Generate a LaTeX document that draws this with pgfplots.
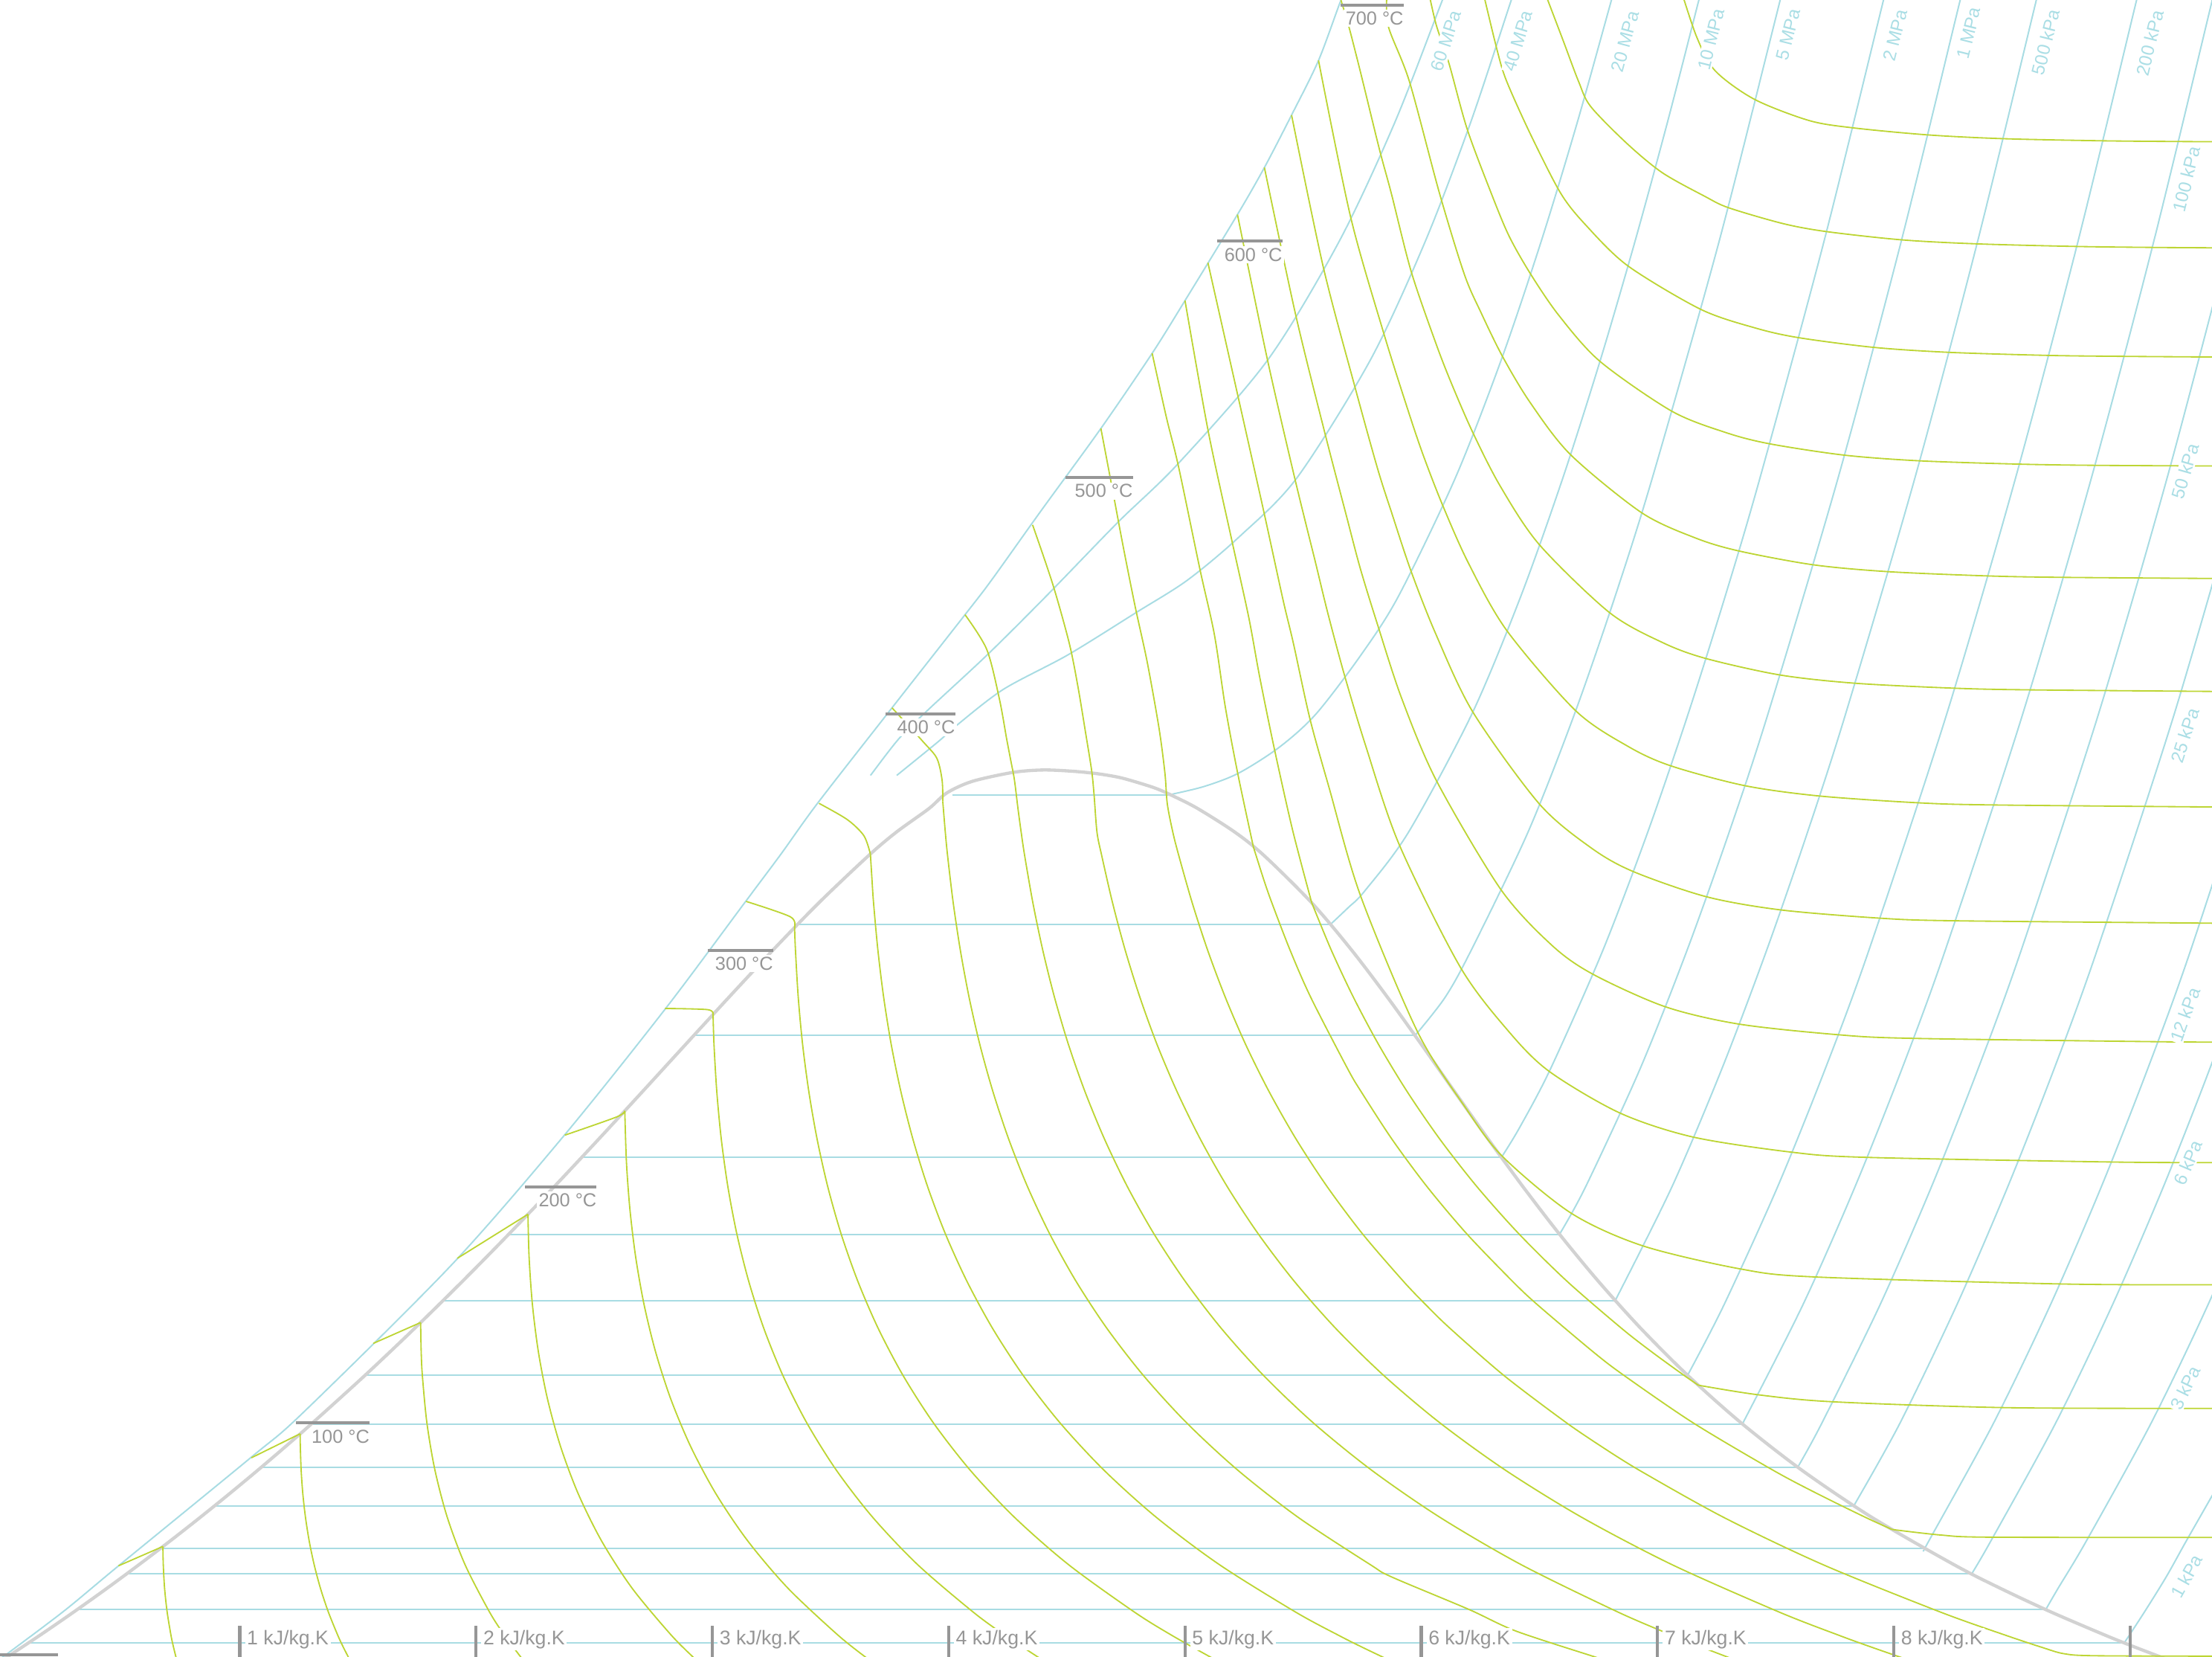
\documentclass[border=0pt]{standalone}
\usepackage{fontspec}
\setmainfont{Liberation Sans}
\usepackage{pgfplots}
\pgfplotsset{compat=1.18}

\definecolor{isobar}{RGB}{168,220,227}
\definecolor{isenth}{RGB}{189,213,52}
\definecolor{dome}{RGB}{210,210,210}
\definecolor{markc}{RGB}{150,150,150}
\definecolor{plabc}{RGB}{170,222,229}

\tikzset{
  pb/.style={draw=isobar, line width=0.6pt},
  hb/.style={draw=isenth, line width=0.55pt},
  plab/.style={text=plabc, fill=white, inner sep=0.5pt, font=\fontsize{7.3}{8}\selectfont},
  tlab/.style={text=markc, fill=white, inner sep=0.8pt, font=\fontsize{7.6}{9}\selectfont},
  slab/.style={text=markc, fill=white, inner sep=0.8pt, font=\fontsize{8}{9}\selectfont},
  tbar/.style={draw=markc, line width=1.25pt},
}

\begin{document}
\begin{tikzpicture}
\begin{axis}[
  width=31.36cm, height=23.48cm, scale only axis,
  xmin=-0.0149, xmax=9.3463, ymin=1.19, ymax=702.09,
  hide axis, clip=true,
]
% ---------------- isobars (s in kJ/kg.K, T in degC)
% boundary isobar (highest pressure)
\addplot[pb, smooth] coordinates {(-0.03,-1) (0.25,20) (0.487,39.6) (1.048,85.5) (1.269,104.5) (1.897,167) (2.372,221.6) (2.799,275) (3.137,320.2) (3.29,340.7) (3.444,362.1) (3.76,402.6) (4.069,442) (4.181,456.6) (4.391,486) (4.644,520.8) (4.861,552.6) (5.0,574.9) (5.222,611.3) (5.336,631.2) (5.451,653.4) (5.565,676.5) (5.66,702) (5.70,710)};
% 60 MPa
\addplot[pb, smooth] coordinates {(3.669,374) (3.788,389.4) (3.908,401.3) (4.163,425) (4.414,450) (4.717,481.2) (4.969,505.7) (5.3517,550) (5.6527,600) (5.8867,650) (6.0814,700) (6.1203,710)};
% 40 MPa
\addplot[pb, smooth] coordinates {(3.78,374) (3.957,388.4) (4.034,395.2) (4.231,410.4) (4.5044,425) (4.793,442.9) (5.01,456.6) (5.23,475) (5.4744,500) (5.7857,550) (6.017,600) (6.2078,650) (6.374,700) (6.4072,710)};
% 20 MPa
\addplot[pb] coordinates {(4.0146,365.75) (4.931,365.75)};
\addplot[pb, smooth] coordinates {(4.931,365.75) (5.08,369.3) (5.2275,375) (5.40,386) (5.5544,400) (5.745,425) (5.9043,450) (6.1446,500) (6.339,550) (6.5075,600) (6.6593,650) (6.799,700) (6.827,710)};
% 10 MPa
\addplot[pb] coordinates {(3.3603,311) (5.6159,311)};
\addplot[pb, smooth] coordinates {(5.6159,311) (5.69,318) (5.7596,325) (5.946,350) (6.2141,400) (6.4219,450) (6.5995,500) (6.7585,550) (6.9045,600) (7.0408,650) (7.1693,700) (7.195,710)};
% 5 MPa
\addplot[pb] coordinates {(2.9207,263.94) (5.9737,263.94)};
\addplot[pb, smooth] coordinates {(5.9737,263.94) (6.10,280) (6.211,300) (6.4516,350) (6.6483,400) (6.821,450) (6.9781,500) (7.2605,600) (7.5136,700) (7.539,710)};
% 2 MPa
\addplot[pb] coordinates {(2.4467,212.38) (6.339,212.38)};
\addplot[pb, smooth] coordinates {(6.339,212.38) (6.416,225) (6.5475,250) (6.7684,300) (6.9583,350) (7.1292,400) (7.2866,450) (7.4337,500) (7.7043,600) (7.9509,700) (7.9756,710)};
% 1 MPa
\addplot[pb] coordinates {(2.1381,179.88) (6.585,179.88)};
\addplot[pb, smooth] coordinates {(6.585,179.88) (6.6956,200) (6.9265,250) (7.1246,300) (7.3029,350) (7.467,400) (7.7642,500) (8.0311,600) (8.2755,700) (8.2999,710)};
% 500 kPa
\addplot[pb] coordinates {(1.8604,151.83) (6.8207,151.83)};
\addplot[pb, smooth] coordinates {(6.8207,151.83) (7.061,200) (7.2725,250) (7.4614,300) (7.6346,350) (7.7956,400) (8.0893,500) (8.3544,600) (8.5978,700) (8.6221,710)};
% 200 kPa
\addplot[pb] coordinates {(1.5302,120.21) (7.127,120.21)};
\addplot[pb, smooth] coordinates {(7.127,120.21) (7.281,150) (7.5081,200) (7.71,250) (7.8941,300) (8.2236,400) (8.5153,500) (8.7793,600) (9.0221,700) (9.0464,710)};
% 100 kPa
\addplot[pb] coordinates {(1.3028,99.61) (7.3589,99.61)};
\addplot[pb, smooth] coordinates {(7.3589,99.61) (7.6148,150) (7.8356,200) (8.0346,250) (8.2172,300) (8.5452,400) (8.8362,500) (9.0999,600) (9.3424,700) (9.3667,710)};
% 50 kPa
\addplot[pb] coordinates {(1.0912,81.32) (7.5931,81.32)};
\addplot[pb, smooth] coordinates {(7.5931,81.32) (7.6953,100) (7.9413,150) (8.1592,200) (8.3568,250) (8.5387,300) (8.8659,400) (9.1566,500) (9.4203,600)};
% 25 kPa
\addplot[pb] coordinates {(0.8931,64.96) (7.8302,64.96)};
\addplot[pb, smooth] coordinates {(7.8302,64.96) (8.026,100) (8.2664,150) (8.482,200) (8.6786,250) (8.8598,300) (9.1865,400) (9.4769,500)};
% 12 kPa
\addplot[pb] coordinates {(0.663,46.9) (8.1306,46.9)};
\addplot[pb, smooth] coordinates {(8.1306,46.9) (8.1472,50) (8.422,100) (8.6624,150) (8.878,200) (9.0746,250) (9.2558,300) (9.5825,400)};
% 6 kPa
\addplot[pb] coordinates {(0.5208,36.16) (8.329,36.16)};
\addplot[pb, smooth] coordinates {(8.329,36.16) (8.4098,50) (8.6846,100) (8.925,150) (9.1406,200) (9.3372,250) (9.5184,300)};
% 3 kPa
\addplot[pb] coordinates {(0.3118,21.08) (8.6427,21.08)};
\addplot[pb, smooth] coordinates {(8.6427,21.08) (8.6944,30) (8.8139,50) (9.0887,100) (9.3291,150) (9.5447,200)};
% 1 kPa
\addplot[pb] coordinates {(0.1059,6.97) (8.9749,6.97)};
\addplot[pb, smooth] coordinates {(8.9749,6.97) (9.060,20) (9.153,35) (9.2368,50) (9.351,70) (9.4069,80)};

% ---------------- saturation dome
\addplot[draw=dome, line width=1.3pt, smooth] coordinates {(0,0.01) (0.1511,10) (0.2965,20) (0.4368,30) (0.5724,40) (0.7038,50) (0.8313,60) (0.9551,70) (1.0756,80) (1.1929,90) (1.3072,100) (1.5279,120) (1.7392,140) (1.9426,160) (2.1392,180) (2.3305,200) (2.5177,220) (2.7020,240) (2.8849,260) (3.0685,280) (3.2552,300) (3.4494,320) (3.6601,340) (3.7784,350) (3.9167,360) (3.992,366.6) (4.10,371.5) (4.273,375.3) (4.399,376.3) (4.52,375.8) (4.624,374.8) (4.72,373.2) (4.80,371.0) (4.88,368.4) (4.9496,365.3) (5.0536,360) (5.211,350) (5.3356,340) (5.5372,320) (5.7059,300) (5.8579,280) (6.0016,260) (6.1423,240) (6.284,220) (6.4302,200) (6.584,180) (6.7491,160) (6.9293,140) (7.1292,120) (7.3542,100) (7.6111,80) (7.9082,60) (8.2556,40) (8.4520,30) (8.6661,20) (8.8999,10) (9.0249,5) (9.1556,0.01)};

% ---------------- isenthalps (kJ/kg)
% 200
\addplot[hb] coordinates {(0.4866,39.6) (0.6745,47.77)};
\addplot[hb, smooth] coordinates {(0.6745,47.77) (0.6761,40) (0.6817,30) (0.6925,20) (0.7090,10) (0.7198,5) (0.7322,0.01)};
% 400
\addplot[hb] coordinates {(1.049,85.3) (1.2552,95.45)};
\addplot[hb, smooth] coordinates {(1.2552,95.45) (1.2561,90) (1.2596,80) (1.2667,70) (1.2780,60) (1.2938,50) (1.3148,40) (1.3415,30) (1.3748,20) (1.4154,10) (1.4388,5) (1.4643,0.01)};
% 600
\addplot[hb] coordinates {(1.565,133.7) (1.7651,142.52)};
\addplot[hb, smooth] coordinates {(1.7651,142.52) (1.7676,130) (1.7726,120) (1.7918,100) (1.8259,80) (1.8783,60) (1.9535,40) (2.0570,20) (2.1217,10) (2.1965,0.01)};
% 800
\addplot[hb] coordinates {(1.9206,169.7) (2.2194,188.33)};
\addplot[hb, smooth] coordinates {(2.2194,188.33) (2.2243,170) (2.2384,150) (2.2637,130) (2.3025,110) (2.3576,90) (2.4324,70) (2.5316,50) (2.6610,30) (2.8281,10) (2.9288,0.01)};
% 1000
\addplot[hb, smooth] coordinates {(2.3755,221.8) (2.5946,229.5) (2.6292,232.08)};
\addplot[hb, smooth] coordinates {(2.6292,232.08) (2.6364,210) (2.6513,190) (2.6756,170) (2.7110,150) (2.7598,130) (2.8244,110) (2.9083,90) (3.0153,70) (3.1505,50) (3.3208,30) (3.5344,10) (3.6608,0.01)};
% 1200
\addplot[hb, smooth] coordinates {(2.7994,275.4) (2.98,274.9) (3.0027,272.85)};
\addplot[hb, smooth] coordinates {(3.0027,272.85) (3.0068,260) (3.0187,240) (3.0377,220) (3.0654,200) (3.1034,180) (3.1536,160) (3.2177,140) (3.2988,120) (3.3998,100) (3.5249,80) (3.6793,60) (3.8694,40) (4.1037,20) (4.2408,10) (4.3928,0.01)};
% 1400
\addplot[hb, smooth] coordinates {(3.1426,320.7) (3.3296,314.2) (3.3477,309.65)};
\addplot[hb, smooth] coordinates {(3.3477,309.65) (3.3515,300) (3.3633,280) (3.3819,260) (3.4084,240) (3.4433,220) (3.4881,200) (3.5448,180) (3.6153,160) (3.7018,140) (3.8075,120) (3.9357,100) (4.0913,80) (4.2796,60) (4.5082,40) (4.7861,20) (4.9471,10) (5.1253,0.01)};
% 1600
\addplot[hb, smooth] coordinates {(3.451,362.2) (3.571,355.3) (3.641,348.5) (3.6686,340.72)};
\addplot[hb, smooth] coordinates {(3.6686,340.72) (3.6753,330) (3.6820,320) (3.7004,300) (3.7249,280) (3.7570,260) (3.7981,240) (3.8488,220) (3.9108,200) (3.9861,180) (4.0770,160) (4.1859,140) (4.3162,120) (4.4717,100) (4.6576,80) (4.8799,60) (5.1468,40) (5.4683,20) (5.6535,10) (5.7530,5) (5.8574,0.01)};
% 1800
\addplot[hb, smooth] coordinates {(3.760,402.6) (3.894,388) (3.95,381.2) (3.972,372) (3.9749,362.99)};
\addplot[hb, smooth] coordinates {(3.9749,362.99) (3.9856,350) (3.9953,340) (4.0192,320) (4.0493,300) (4.0865,280) (4.1321,260) (4.1878,240) (4.2543,220) (4.3335,200) (4.4275,180) (4.5387,160) (4.6699,140) (4.8249,120) (5.0077,100) (5.2240,80) (5.4803,60) (5.7855,40) (5.874,34.9) (6.2,21.2) (6.4,12) (6.73,1.2) (6.77,0)};
% 2000
\addplot[hb, smooth] coordinates {(4.069,442) (4.161,427.3) (4.2144,406.4) (4.2453,389.4) (4.2629,380.2) (4.278,372.2) (4.2931,360) (4.3066,350) (4.3215,340) (4.3564,320) (4.3982,300) (4.448,280) (4.5072,260) (4.5775,240) (4.6599,220) (4.7562,200) (4.8688,180) (5.0005,160) (5.154,140) (5.3336,120) (5.5437,100) (5.7903,80) (6.0806,60) (6.4241,40) (6.8328,20) (7.0661,10) (7.1911,5) (7.3217,0.01)};
% 2200
\addplot[hb, smooth] coordinates {(4.355,480) (4.44,455) (4.51,430) (4.547,411.5) (4.58,391.6) (4.605,376) (4.615,366) (4.6275,350) (4.6477,340) (4.6936,320) (4.7471,300) (4.8096,280) (4.8823,260) (4.9673,240) (5.0655,220) (5.1789,200) (5.3102,180) (5.4622,160) (5.6382,140) (5.8424,120) (6.0797,100) (6.3567,80) (6.6809,60) (7.0627,40) (7.515,20) (7.7724,10) (7.9102,5) (8.0542,0.01)};
% 2400
\addplot[hb, smooth] coordinates {(4.644,520.8) (4.692,495.5) (4.74,470) (4.79,445) (4.84,422) (4.89,394) (4.915,375) (4.925,362) (4.9484,350) (4.9739,340) (5.0308,320) (5.096,300) (5.1711,280) (5.2574,260) (5.357,240) (5.4709,220) (5.6016,200) (5.7515,180) (5.9239,160) (6.0195,150) (6.1222,140) (6.3511,120) (6.6157,100) (6.7635,90)};
\addplot[hb, smooth] coordinates {(6.7635,90) (6.923,80) (7.2813,60) (7.7016,40) (8.1974,20) (8.4789,10) (8.6293,5) (8.72,2.4) (8.85,1.55) (9.4,1.35)};
% 2600
\addplot[hb, smooth] coordinates {(4.861,552.6) (4.921,525.6) (4.9729,504.5) (5.0632,461.2) (5.1245,433.5) (5.1707,402.9) (5.2231,374.86) (5.2895,343.7)};
\addplot[hb, smooth] coordinates {(5.2895,343.7) (5.3330,330) (5.3679,320) (5.445,300) (5.5327,280) (5.6877,250) (5.7467,240) (5.8765,220) (6.0243,200) (6.1929,180) (6.3857,160) (6.4921,150) (6.7287,130) (6.8598,120) (7.1516,100) (7.4893,80) (7.6781,70) (7.8815,60) (7.992,54.97)};
\addplot[hb, smooth] coordinates {(7.992,54.97) (8.2,52.6) (8.41,51.7) (9.4,51.6)};
% 2700
\addplot[hb, smooth] coordinates {(5.0,574.9) (5.0983,519.6) (5.1974,473.8) (5.2695,441.0) (5.3148,416.3) (5.3759,386.3) (5.4545,351.2) (5.536,320.2)};
\addplot[hb, smooth] coordinates {(5.536,320.2) (5.6194,300) (5.7134,280) (5.8201,260) (5.9416,240) (6.0792,220) (6.2355,200) (6.4135,180) (6.6165,160) (6.8483,140) (6.9766,130) (7.1142,120) (7.1728,116.0)};
\addplot[hb, smooth] coordinates {(7.1728,116.0) (7.422,112.0) (7.7396,109.0) (8.4804,106.5) (9.4,106.2)};
% 2800
\addplot[hb, smooth] coordinates {(5.097,590.9) (5.2238,534.6) (5.3315,486.5) (5.4146,448.4) (5.4589,429.8) (5.5286,398.0) (5.6095,368.9) (5.7421,323.3) (5.9842,265.5) (6.183,234) (6.3425,212.9) (6.634,188.8) (6.9365,175.0) (7.3501,165.2) (7.667,161.8) (8.7272,158.8) (9.4,158.5)};
% 2900
\addplot[hb, smooth] coordinates {(5.222,611.3) (5.3493,549.7) (5.4657,499.2) (5.55,465.0) (5.603,443.2) (5.6732,417.0) (5.7644,386.6) (5.9067,344.7) (6.1646,292.96) (6.3688,265.8) (6.541,248.8) (6.8398,231.2) (7.1499,221.0) (7.567,214.6) (7.8849,212.4) (8.9459,210.4) (9.4,210.2)};
% 3000
\addplot[hb, smooth] coordinates {(5.336,631.2) (5.4676,569.2) (5.5918,518.9) (5.6829,483.9) (5.742,461.5) (5.8161,437.4) (5.9166,406.7) (6.0634,371.9) (6.3355,325.9) (6.5507,302.3) (6.7242,290.0) (7.0304,276.2) (7.3436,268.8) (7.7625,264.3) (8.0812,262.75) (9.1426,261.3) (9.4,261.2)};
% 3100
\addplot[hb, smooth] coordinates {(5.451,653.4) (5.5856,588.9) (5.7174,539.0) (5.8147,503.9) (5.876,484.7) (5.9556,460.7) (6.0602,434.1) (6.2177,400.9) (6.499,362.0) (6.718,343.4) (6.8952,333.4) (7.2055,322.7) (7.5206,317.1) (7.941,313.6) (8.2582,312.5) (9.3201,311.5) (9.4,311.4)};
% 3200
\addplot[hb, smooth] coordinates {(5.565,676.5) (5.7008,610.3) (5.8395,561.6) (5.9402,529.6) (6.007,509.8) (6.0895,488.5) (6.1996,463.8) (6.3611,435.4) (6.653,401.4) (6.8746,386.3) (7.0545,378.1) (7.3674,369.7) (7.6838,365.3) (8.106,362.4) (8.4251,361.5) (9.4,360.6)};
% 3300
\addplot[hb, smooth] coordinates {(5.66,702) (5.694,690.6) (5.745,670.6) (5.822,639.2) (5.873,620.3) (5.9575,587.1) (6.0643,556.1) (6.1324,538.7) (6.2184,519.0) (6.3335,496.5) (6.499,471.7) (6.7964,442.9) (7.0213,430.2) (7.2032,423.5) (7.5178,416.5) (7.8358,413.0) (8.2573,410.9) (8.5767,410.2) (9.4,409.5)};
% 3400
\addplot[hb, smooth] coordinates {(5.855,705) (5.86,691.1) (5.95,667.5) (6.077,620.3) (6.1822,586.0) (6.2533,569.7) (6.3435,551.3) (6.4598,531.9) (6.6307,509.8) (6.9317,485.2) (7.1593,474.5) (7.3425,469.0) (7.6597,463.1) (7.9772,460.2) (8.3991,458.4) (8.7187,457.8) (9.4,457.3)};
% 3500
\addplot[hb, smooth] coordinates {(6.03,706) (6.063,691.6) (6.117,675.3) (6.194,647.5) (6.296,620.3) (6.3709,602.3) (6.4615,586.3) (6.5816,568.7) (6.756,549.2) (7.0602,528.1) (7.2908,519.0) (7.4744,514.3) (7.7909,509.5) (8.1092,507.1) (8.5313,505.7) (8.8508,505.2) (9.4,504.9)};
% 3600
\addplot[hb, smooth] coordinates {(6.26,706) (6.32,681.2) (6.36,668) (6.461,645.5) (6.59,620.3) (6.6984,606.6) (6.8741,589.6) (7.1825,571.2) (7.4138,563.3) (7.5975,559.2) (7.9153,555.1) (8.2338,553.0) (8.6558,551.7) (8.9756,551.3) (9.4,551.0)};
% 3700
\addplot[hb, smooth] coordinates {(6.52,706) (6.60,685) (6.666,667.5) (6.717,657) (6.871,641.3) (7.02,629) (7.20,619) (7.30,614.2) (7.5299,607.5) (7.7141,604.1) (8.0327,600.6) (8.3517,598.9) (8.7738,597.8) (9.0934,597.4) (9.4,597.2)};
% 3800
\addplot[hb, smooth] coordinates {(7.10,706) (7.166,686.3) (7.243,672.2) (7.409,660.1) (7.6405,651.1) (7.8258,648.0) (8.1442,645.0) (8.4631,643.4) (8.8858,642.5) (9.2056,642.2) (9.4,642.1)};

% ---------------- isobar labels
\node[plab, rotate=72] at (6.1045,684.8) {60 MPa};
\node[plab, rotate=73] at (6.4090,684.8) {40 MPa};
\node[plab, rotate=75] at (6.8627,684.5) {20 MPa};
\node[plab, rotate=76] at (7.2269,685.4) {10 MPa};
\node[plab, rotate=76] at (7.5522,687.5) {5 MPa};
\node[plab, rotate=76] at (8.0060,687.2) {2 MPa};
\node[plab, rotate=76] at (8.3164,688.1) {1 MPa};
\node[plab, rotate=76] at (8.6418,684.2) {500 kPa};
\node[plab, rotate=76] at (9.0836,683.9) {200 kPa};
\node[plab, rotate=76] at (9.2388,626.3) {100 kPa};
\node[plab, rotate=74] at (9.2328,502.7) {50 kPa};
\node[plab, rotate=72] at (9.2328,391.0) {25 kPa};
\node[plab, rotate=70] at (9.2328,272.8) {12 kPa};
\node[plab, rotate=67] at (9.2448,210.1) {6 kPa};
\node[plab, rotate=64] at (9.2328,114.9) {3 kPa};
\node[plab, rotate=61] at (9.2388,35.2) {1 kPa};

% ---------------- temperature marks
\node[tlab, anchor=north east] at (1.559,98.2) {100 °C};
\node[tlab, anchor=north east] at (2.520,198.2) {200 °C};
\node[tlab, anchor=north east] at (3.267,298.2) {300 °C};
\node[tlab, anchor=north east] at (4.037,398.2) {400 °C};
\node[tlab, anchor=north east] at (4.789,498.2) {500 °C};
\node[tlab, anchor=north east] at (5.422,598.2) {600 °C};
\node[tlab, anchor=north east] at (5.935,698.2) {700 °C};
\draw[tbar] (-0.02,1.9) -- (0.23,1.9);
\draw[tbar] (1.239,100) -- (1.549,100);
\draw[tbar] (2.206,200) -- (2.510,200);
\draw[tbar] (2.982,300) -- (3.257,300);
\draw[tbar] (3.734,400) -- (4.027,400);
\draw[tbar] (4.493,500) -- (4.779,500);
\draw[tbar] (5.137,600) -- (5.412,600);
\draw[tbar] (5.657,700) -- (5.925,700);

% ---------------- entropy marks
\node[slab, anchor=base west] at (1.02,6.3) {1 kJ/kg.K};
\node[slab, anchor=base west] at (2.02,6.3) {2 kJ/kg.K};
\node[slab, anchor=base west] at (3.02,6.3) {3 kJ/kg.K};
\node[slab, anchor=base west] at (4.02,6.3) {4 kJ/kg.K};
\node[slab, anchor=base west] at (5.02,6.3) {5 kJ/kg.K};
\node[slab, anchor=base west] at (6.02,6.3) {6 kJ/kg.K};
\node[slab, anchor=base west] at (7.02,6.3) {7 kJ/kg.K};
\node[slab, anchor=base west] at (8.02,6.3) {8 kJ/kg.K};
\draw[tbar] (1,-2) -- (1,14.3);
\draw[tbar] (2,-2) -- (2,14.3);
\draw[tbar] (3,-2) -- (3,14.3);
\draw[tbar] (4,-2) -- (4,14.3);
\draw[tbar] (5,-2) -- (5,14.3);
\draw[tbar] (6,-2) -- (6,14.3);
\draw[tbar] (7,-2) -- (7,14.3);
\draw[tbar] (8,-2) -- (8,14.3);
\draw[tbar] (9,-2) -- (9,14.3);
\end{axis}
\pgfresetboundingbox
\useasboundingbox (current axis.south west) rectangle (current axis.north east);
\end{tikzpicture}
\end{document}
